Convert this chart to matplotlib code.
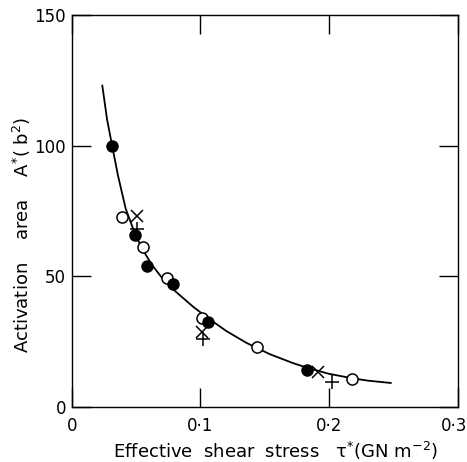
import matplotlib
matplotlib.use("Agg")
import matplotlib.pyplot as plt
from matplotlib.transforms import ScaledTranslation

# Open circles
open_x = [0.0389, 0.0552, 0.0743, 0.1010, 0.1437, 0.2178]
open_y = [72.6, 61.2, 49.5, 33.9, 23.0, 10.9]
# Filled circles
fill_x = [0.0316, 0.0494, 0.0588, 0.0790, 0.1057, 0.1826]
fill_y = [99.7, 65.6, 53.9, 47.2, 32.6, 14.1]
# Crosses (x)
cross_x = [0.0505, 0.1010, 0.1916]
cross_y = [72.9, 28.7, 13.5]
# Plus signs
plus_x = [0.0505, 0.1018, 0.2020]
plus_y = [68.2, 26.2, 9.7]
# Fitted curve
curve_x = [0.0238, 0.0275, 0.0316, 0.0360, 0.0420, 0.0494, 0.0560, 0.0622,
           0.0700, 0.0800, 0.0945, 0.1060, 0.1204, 0.1360, 0.1540, 0.1720,
           0.1850, 0.2000, 0.2180, 0.2300, 0.2480]
curve_y = [122.9, 110.0, 99.5, 88.5, 75.8, 66.0, 59.5, 54.5,
           49.5, 44.5, 38.3, 34.0, 29.0, 24.5, 20.2, 16.8,
           14.7, 12.7, 11.0, 10.1, 9.2]

xticks = [0, 0.1, 0.2, 0.3]
xticklabels = ["0", "0\u00b71", "0\u00b72", "0\u00b73"]
yticks = [0, 50, 100, 150]
yticklabels = ["0", "50", "100", "150"]

fig = plt.figure(figsize=(4.67, 4.62), dpi=100)
ax = fig.add_axes([0.1535, 0.119, 0.8265, 0.849])

ax.plot(curve_x, curve_y, color="black", lw=1.3, zorder=1)
ax.plot(open_x, open_y, "o", ms=8, mfc="white", mec="black", mew=1.1, ls="none", zorder=3)
ax.plot(fill_x, fill_y, "o", ms=8, mfc="black", mec="black", mew=1.0, ls="none", zorder=3)
ax.plot(cross_x, cross_y, "x", ms=8, color="black", mew=1.1, ls="none", zorder=3)
ax.plot(plus_x, plus_y, "+", ms=10, color="black", mew=1.1, ls="none", zorder=3)

ax.set_xlim(0, 0.3)
ax.set_ylim(0, 150)
ax.set_xticks(xticks)
ax.set_xticklabels(xticklabels, fontsize=12)
ax.set_yticks(yticks)
ax.set_yticklabels(yticklabels, fontsize=12)
ax.tick_params(direction="in", length=14, width=1.0, top=True, right=True)
ax.tick_params(axis="x", pad=7)
ax.tick_params(axis="y", pad=4)
for s in ax.spines.values():
    s.set_linewidth(1.0)

# shift the last x tick label slightly left so it stays inside the picture
lab = ax.get_xticklabels()[-1]
lab.set_transform(lab.get_transform() + ScaledTranslation(-3.5 / 100, 0, fig.dpi_scale_trans))

ax.set_xlabel("Effective  shear  stress   \u03c4$^{*}$(GN m$^{-2}$)", fontsize=13)
ax.xaxis.set_label_coords(0.529, -0.085)
ax.set_ylabel("Activation    area    A$^{*}$( b$^{2}$)", fontsize=13)
ax.yaxis.set_label_coords(-0.10, 0.44)

fig.savefig("out.png", dpi=100)
